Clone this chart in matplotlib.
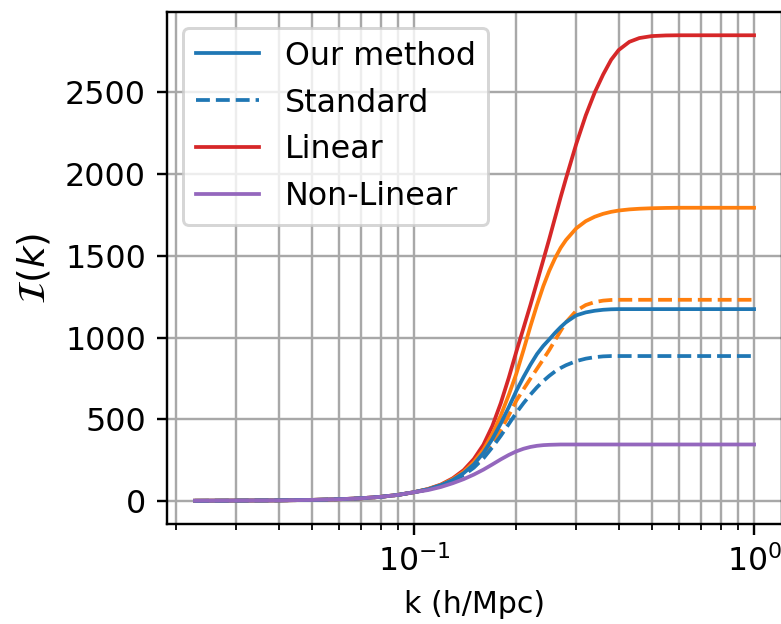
import matplotlib
matplotlib.use("Agg")
import matplotlib.pyplot as plt
from matplotlib.lines import Line2D

# wavenumbers (h/Mpc)
k = [0.0227, 0.03, 0.04, 0.05, 0.06, 0.07, 0.08, 0.09, 0.10, 0.11, 0.12, 0.13,
     0.14, 0.15, 0.16, 0.17, 0.18, 0.19, 0.20, 0.21, 0.22, 0.23, 0.24, 0.25,
     0.26, 0.27, 0.28, 0.30, 0.32, 0.34, 0.36, 0.38, 0.40, 0.43, 0.46, 0.50,
     0.55, 0.60, 0.70, 0.80, 0.90, 1.00]

low = [3, 4, 5, 8, 12, 18, 27, 39, 55]

linear = low + [75, 102, 140, 190, 258, 345, 460, 600, 755, 915, 1060, 1200,
                1340, 1475, 1605, 1735, 1860, 1975, 2185, 2360, 2500, 2610,
                2700, 2760, 2810, 2833, 2845, 2849, 2850, 2850, 2850, 2850, 2850]

ours_lin = low + [74, 100, 135, 180, 240, 315, 410, 525, 650, 780, 925, 1070,
                  1200, 1315, 1410, 1487, 1550, 1598, 1669, 1713, 1740, 1758,
                  1770, 1778, 1785, 1789, 1792, 1794, 1795, 1795, 1795, 1795, 1795]

std_lin = low + [72, 96, 127, 165, 212, 275, 350, 435, 525, 615, 685, 750,
                 810, 868, 925, 985, 1042, 1095, 1165, 1200, 1218, 1227,
                 1231, 1232, 1232, 1232, 1232, 1232, 1232, 1232, 1232, 1232, 1232]

ours_nl = low + [73, 98, 130, 172, 225, 295, 380, 475, 575, 675, 760, 835,
                 900, 950, 990, 1030, 1065, 1095, 1137, 1155, 1165, 1171,
                 1174, 1175, 1175, 1175, 1175, 1175, 1175, 1175, 1175, 1175, 1175]

std_nl = low + [72, 95, 125, 160, 205, 262, 330, 400, 472, 541, 600, 652,
                697, 735, 767, 794, 815, 832, 857, 872, 881, 886,
                888, 888, 888, 888, 888, 888, 888, 888, 888, 888, 888]

nonlinear = low + [68, 87, 110, 135, 163, 193, 225, 256, 283, 305, 321, 332,
                   339, 343, 345, 346, 347, 347, 347, 347, 347, 347,
                   347, 347, 347, 347, 347, 347, 347, 347, 347, 347, 347]

legend_labels = ["Our method", "Standard", "Linear", "Non-Linear"]

dpi = 216
fig = plt.figure(figsize=(781 / dpi, 624 / dpi), dpi=dpi)
ax = fig.add_axes([167 / 781, 100 / 624, 615 / 781, 512 / 624])

lw = 1.25
ax.plot(k, linear, color="C3", lw=lw)
ax.plot(k, ours_lin, color="C1", lw=lw)
ax.plot(k, std_lin, color="C1", ls="--", lw=lw)
ax.plot(k, ours_nl, color="C0", lw=lw)
ax.plot(k, std_nl, color="C0", ls="--", lw=lw)
ax.plot(k, nonlinear, color="C4", lw=lw)

ax.set_xscale("log")
ax.set_yticks([0, 500, 1000, 1500, 2000, 2500])
ax.tick_params(axis="y", labelsize=10.6)
ax.tick_params(axis="x", labelsize=10.5)
ax.grid(True, which="both", axis="x", color="#a8a8a8")
ax.grid(True, which="major", axis="y", color="#a8a8a8")
ax.set_xlabel("k (h/Mpc)")
ax.set_ylabel(r"$\mathcal{I}(k)$", fontsize=12.5)

handles = [Line2D([], [], color="C0", lw=lw),
           Line2D([], [], color="C0", ls="--", lw=lw),
           Line2D([], [], color="C3", lw=lw),
           Line2D([], [], color="C4", lw=lw)]
ax.legend(handles, legend_labels, loc="upper left", fontsize=10.6)

fig.savefig("out.png", dpi=dpi)
